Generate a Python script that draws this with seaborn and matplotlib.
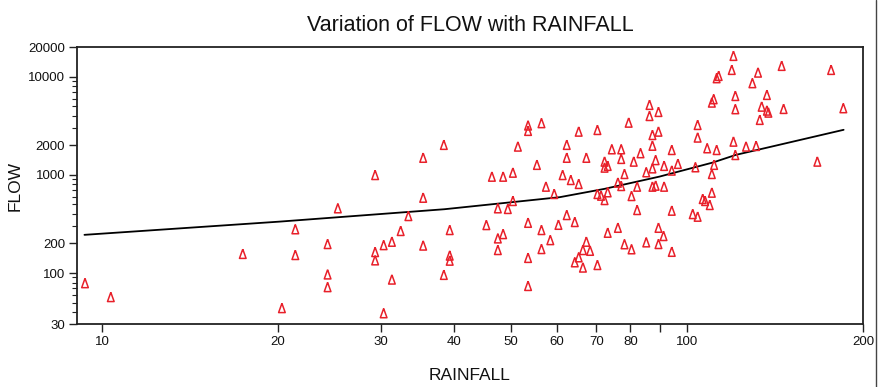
import numpy as np
import pandas as pd
import matplotlib
matplotlib.use("Agg")
import matplotlib.pyplot as plt
import seaborn as sns
from matplotlib.lines import Line2D
from matplotlib.ticker import FixedLocator, FixedFormatter, LogLocator, NullFormatter, NullLocator

# ---------------- data ----------------
rainfall = [9.35, 10.35, 17.4, 20.3, 21.4, 21.4, 24.3, 24.3, 24.3, 25.3,
            29.3, 29.3, 29.3, 30.3, 30.3, 31.3, 31.3, 32.4, 33.4, 35.4,
            35.4, 35.4, 38.4, 38.4, 39.3, 39.3, 39.3, 45.4, 46.4, 47.5,
            47.5, 47.5, 48.5, 48.5, 49.4, 50.4, 50.4, 51.4, 53.5, 53.5,
            53.5, 53.5, 53.5, 55.4, 56.4, 56.4, 56.4, 57.4, 58.4, 59.3,
            60.3, 61.3, 62.3, 62.3, 62.3, 63.3, 64.3, 64.3, 65.3, 65.3,
            65.3, 66.4, 66.4, 67.3, 67.3, 68.3, 70.3, 70.3, 70.3, 71.3,
            72.3, 72.3, 72.3, 73.2, 73.2, 73.2, 74.4, 76.2, 76.2, 77.2,
            77.2, 77.2, 78.2, 78.2, 79.5, 80.4, 80.4, 81.1, 82.2, 82.2,
            83.3, 85.2, 85.2, 86.3, 86.3, 87.3, 87.3, 87.3, 87.3, 88.4,
            88.4, 89.4, 89.4, 89.4, 89.4, 91.2, 91.4, 91.4, 94.2, 94.2,
            94.2, 94.2, 96.5, 102.3, 103.4, 104.3, 104.3, 104.3, 106.4, 107.4,
            108.3, 109.4, 110.3, 111.1, 110.3, 110.3, 111.3, 112.4, 113.3, 112.4,
            119.3, 120.1, 120.1, 121.0, 121.0, 121.0, 126.2, 129.4, 131.3, 132.3,
            133.2, 134.2, 137.0, 137.0, 137.8, 145.2, 146.3, 167.1, 176.4, 185.1]

flow = [79, 57, 157, 44, 280, 153, 198, 97, 72, 458,
        1000, 164, 135, 193, 39, 209, 86, 269, 382, 1500,
        587, 191, 2030, 96, 275, 151, 134, 309, 962, 458,
        226, 172, 962, 250, 451, 1057, 544, 1950, 3200, 2820,
        326, 143, 74, 1270, 3380, 275, 176, 761, 217, 641,
        311, 1000, 2030, 1500, 391, 890, 332, 129, 2770, 811,
        145, 172, 114, 1500, 209, 169, 2880, 641, 121, 616,
        1370, 1190, 556, 1240, 667, 258, 1830, 836, 290, 1830,
        1460, 773, 1025, 197, 3420, 611, 175, 1370, 761, 440,
        1670, 1067, 206, 5190, 4000, 2560, 1990, 1170, 761, 1420,
        779, 4400, 2770, 290, 198, 239, 1240, 761, 1800, 1110,
        433, 165, 1300, 400, 1200, 3240, 2410, 376, 570, 544,
        1875, 495, 5480, 5930, 1025, 661, 1270, 9710, 10250, 1800,
        11800, 16400, 2190, 6400, 4690, 1600, 1950, 8640, 1980, 11080,
        3650, 4980, 6560, 4540, 4330, 12970, 4720, 1370, 11800, 4800]

fit_rainfall = [9.33, 20.1, 38.5, 60.6, 72.3, 89.8, 110.7, 121.3, 138.3, 185.3]
fit_flow = [245, 334, 447, 593, 721, 962, 1337, 1602, 1920, 2883]

x_ticks = [10, 20, 30, 40, 50, 60, 70, 80, 90, 100, 200]
x_tick_labels = ["10", "20", "30", "40", "50", "60", "70", "80", "", "100", "200"]
y_ticks = [30, 100, 200, 1000, 2000, 10000, 20000]
y_tick_labels = ["30", "100", "200", "1000", "2000", "10000", "20000"]

title = "Variation of FLOW with RAINFALL"
x_label = "RAINFALL"
y_label = "FLOW"

# ---------------- styling ----------------
sns.set_theme(style="white")
plt.rcParams["font.family"] = ["Liberation Sans", "DejaVu Sans"]

W, H = 885, 387
fig = plt.figure(figsize=(W / 100, H / 100), dpi=100)
ax = fig.add_axes([77 / W, 1 - 324.3 / H, (863 - 77) / W, (324.3 - 47.3) / H])

df = pd.DataFrame({"RAINFALL": rainfall, "FLOW": flow})
fit_df = pd.DataFrame({"RAINFALL": fit_rainfall, "FLOW": fit_flow})

tri = [(0, 1), (-0.72, -1), (0.72, -1), (0, 1)]
sns.scatterplot(data=df, x="RAINFALL", y="FLOW", ax=ax, marker=tri, s=44,
                facecolor="none", edgecolor="#e8202a", linewidth=1.1, zorder=3)
sns.lineplot(data=fit_df, x="RAINFALL", y="FLOW", ax=ax, color="black",
             linewidth=1.3, zorder=2, estimator=None, sort=True)

ax.set_xscale("log")
ax.set_yscale("log")
ax.set_xlim(9.06, 200)
ax.set_ylim(30, 20000)

ax.xaxis.set_major_locator(FixedLocator(x_ticks))
ax.xaxis.set_major_formatter(FixedFormatter(x_tick_labels))
ax.xaxis.set_minor_locator(NullLocator())
ax.yaxis.set_major_locator(FixedLocator(y_ticks))
ax.yaxis.set_major_formatter(FixedFormatter(y_tick_labels))
ax.yaxis.set_minor_locator(LogLocator(base=10, subs=np.arange(2, 10)))
ax.yaxis.set_minor_formatter(NullFormatter())

ax.tick_params(axis="both", which="major", direction="out", length=6, width=1.0,
               labelsize=9.5, pad=2.5, colors="#222222", bottom=True, left=True,
               top=False, right=False)
ax.tick_params(axis="y", which="minor", direction="out", length=3.5, width=0.8,
               colors="#222222", left=True, right=False)
ax.tick_params(axis="x", labelcolor="#111111")
ax.tick_params(axis="y", labelcolor="#111111")

for sp in ax.spines.values():
    sp.set_visible(True)
    sp.set_color("#222222")
    sp.set_linewidth(1.3)

ax.set_title(title, fontsize=15.5, pad=12, color="#111111")
ax.set_xlabel(x_label, fontsize=12.5, labelpad=14, color="#111111")
ax.set_ylabel(y_label, fontsize=12.5, labelpad=4, color="#111111")
ax.grid(False)

fig.add_artist(Line2D([876 / W, 876 / W], [0, 1], transform=fig.transFigure,
                      color="#444444", linewidth=1.0))

fig.savefig("out.png", dpi=100, facecolor="white")
